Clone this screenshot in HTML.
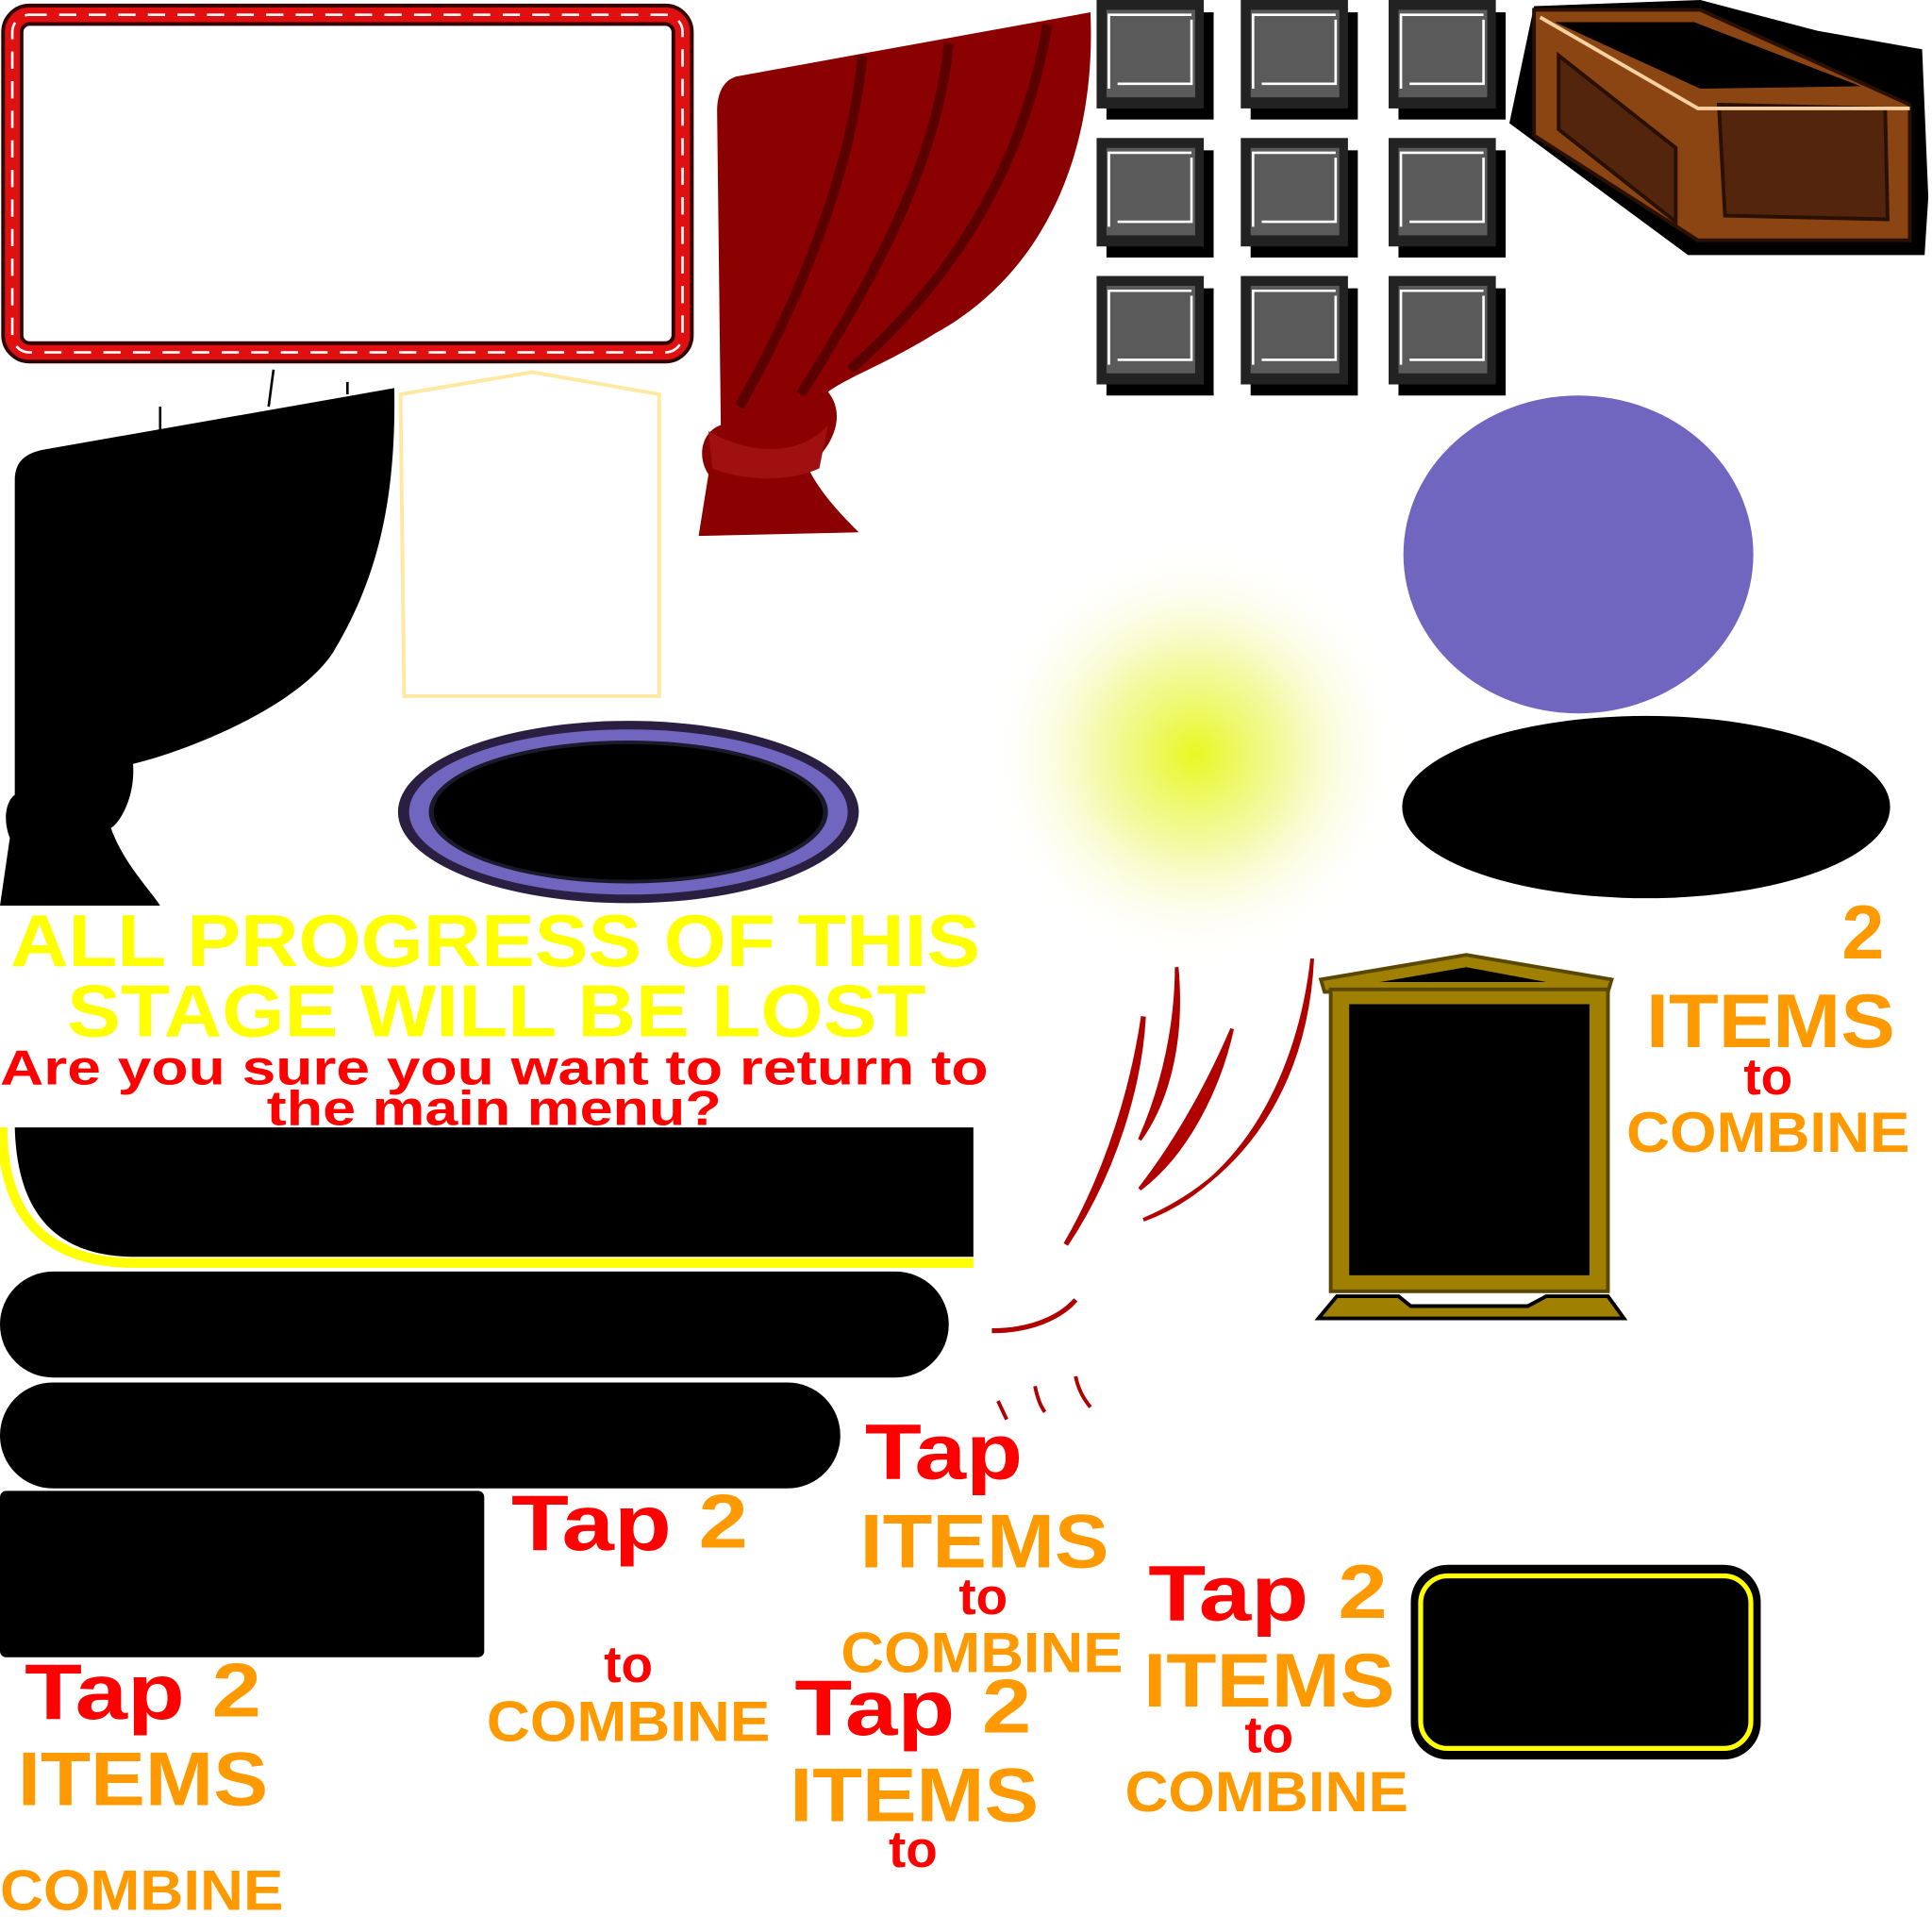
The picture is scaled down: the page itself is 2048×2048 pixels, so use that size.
<!DOCTYPE html>
<html><head><meta charset="utf-8"><style>
html,body{margin:0;padding:0;background:#fff;width:2048px;height:2048px;overflow:hidden}
svg{display:block}
text{font-family:"Liberation Sans",Arial,sans-serif;font-weight:bold}
</style></head><body>
<svg width="2048" height="2048" viewBox="0 0 1568 1568" xmlns="http://www.w3.org/2000/svg">
<defs>
<radialGradient id="glow" cx="50%" cy="50%" r="50%">
<stop offset="0" stop-color="#e8f820"/>
<stop offset="0.45" stop-color="#f0f890" stop-opacity="0.8"/>
<stop offset="1" stop-color="#ffffff" stop-opacity="0"/>
</radialGradient>
<g id="tile">
<rect x="8" y="10" width="87" height="87" fill="#000"/>
<rect x="0" y="0" width="87" height="88" fill="#222"/>
<rect x="8" y="8" width="72" height="71" fill="#5a5a5a"/>
<path d="M10,72 V12 H77 M17,68 H77 V16" stroke="#fff" stroke-width="2" fill="none"/>
</g>
</defs>

<!-- rope frame -->
<rect x="10" y="12" width="544" height="274" rx="14" fill="none" stroke="#300" stroke-width="18"/>
<rect x="10" y="12" width="544" height="274" rx="14" fill="none" stroke="#e01010" stroke-width="12"/>
<rect x="10" y="12" width="544" height="274" rx="14" fill="none" stroke="#fff" stroke-width="2" stroke-dasharray="14 10"/>

<!-- red curtain -->
<path d="M598,62 L885,10 C890,120 850,220 760,270 C720,295 690,305 672,318 C690,340 670,370 655,378 C665,400 685,420 697,432 L567,435 L575,385 C565,370 570,350 585,345 L582,90 C582,72 590,64 598,62 Z" fill="#8b0000"/>
<path d="M700,45 C690,150 640,260 600,330 M770,35 C760,140 700,240 650,320 M850,20 C830,140 770,230 690,300" stroke="#5a0000" stroke-width="8" fill="none"/>
<path d="M575,350 C610,370 650,370 672,345 L665,380 C640,392 600,390 578,380 Z" fill="#a01010"/>

<!-- tiles -->
<use href="#tile" x="890" y="0"/><use href="#tile" x="1007" y="0"/><use href="#tile" x="1127" y="0"/>
<use href="#tile" x="890" y="112"/><use href="#tile" x="1007" y="112"/><use href="#tile" x="1127" y="112"/>
<use href="#tile" x="890" y="224"/><use href="#tile" x="1007" y="224"/><use href="#tile" x="1127" y="224"/>

<!-- crate -->
<path d="M1225,100 L1370,207 L1562,207 L1565,160 L1560,40 L1475,25 L1380,0 L1245,5 Z" fill="#000"/>
<path d="M1245,8 L1380,8 L1550,85 L1550,195 L1378,195 L1245,110 Z" fill="#8b4513" stroke="#2a1000" stroke-width="3"/>
<path d="M1262,18 L1375,18 L1510,70 L1380,72 Z" fill="#000"/>
<path d="M1265,45 L1360,120 L1360,180 L1265,105 Z M1395,85 L1530,88 L1532,178 L1400,175 Z" fill="#52250c" stroke="#2a1000" stroke-width="3"/>
<path d="M1250,14 L1378,88 L1550,88" stroke="#f5d0a0" stroke-width="3" fill="none"/>

<!-- black curtain -->
<path d="M35,365 L320,315 C322,420 300,480 270,530 C240,575 150,610 108,620 C110,650 95,670 90,672 C100,700 120,720 130,735 L0,735 L8,680 C2,665 5,650 12,645 L12,390 C12,375 20,368 35,365 Z" fill="#000"/>
<path d="M130,330 L130,350 M222,300 L218,330 M282,310 L282,320" stroke="#000" stroke-width="2"/>

<!-- pale frame -->
<path d="M325,320 L432,302 L535,320 L535,565 L328,565 Z" fill="none" stroke="#ffe9a0" stroke-width="3"/>

<!-- purple ring -->
<ellipse cx="510" cy="659" rx="187" ry="74" fill="#2a1f40"/>
<ellipse cx="510" cy="659" rx="178" ry="67" fill="#7066c0"/>
<ellipse cx="510" cy="659" rx="162" ry="58" fill="#1a1a2a"/>
<ellipse cx="510" cy="659" rx="158" ry="55" fill="#000"/>

<!-- glow -->
<circle cx="970" cy="612" r="170" fill="url(#glow)"/>

<!-- purple circle and black ellipse -->
<ellipse cx="1281" cy="450" rx="142" ry="129" fill="#7066c0"/>
<ellipse cx="1336" cy="655" rx="198" ry="74" fill="#000"/>

<!-- headline -->
<text x="402" y="784" text-anchor="middle" font-size="60" fill="#ffff00" textLength="787" lengthAdjust="spacingAndGlyphs">ALL PROGRESS OF THIS</text>
<text x="403" y="841" text-anchor="middle" font-size="60" fill="#ffff00" textLength="697" lengthAdjust="spacingAndGlyphs">STAGE WILL BE LOST</text>
<text x="401" y="880" text-anchor="middle" font-size="40" fill="#ff0000" textLength="802" lengthAdjust="spacingAndGlyphs">Are you sure you want to return to</text>
<text x="401" y="913" text-anchor="middle" font-size="40" fill="#ff0000" textLength="369" lengthAdjust="spacingAndGlyphs">the main menu?</text>

<!-- bars -->
<path d="M2,915 C2,990 40,1025 110,1025 L790,1025" stroke="#ffff00" stroke-width="8" fill="none"/>
<path d="M12,915 L790,915 L790,1020 L110,1020 C50,1020 14,990 12,915 Z" fill="#000"/>
<rect x="0" y="1032" width="770" height="86" rx="43" fill="#000"/>
<rect x="0" y="1122" width="682" height="86" rx="43" fill="#000"/>
<rect x="0" y="1210" width="393" height="135" rx="5" fill="#000"/>

<!-- red swooshes -->
<path d="M865,1010 C900,950 920,880 928,825 C925,880 905,950 865,1010 Z" fill="#b00000" stroke="#b00000" stroke-width="4"/>
<path d="M925,925 C945,880 955,830 955,785 C960,840 950,890 925,925 Z" fill="#b00000" stroke="#b00000" stroke-width="3"/>
<path d="M925,965 C960,920 985,870 1000,835 C990,880 965,935 925,965 Z" fill="#b00000" stroke="#b00000" stroke-width="3"/>
<path d="M928,990 C1010,960 1055,870 1065,778 C1060,880 1010,955 928,990 Z" fill="#b00000" stroke="#b00000" stroke-width="3"/>
<path d="M805,1080 C835,1080 860,1070 873,1055" stroke="#b00000" stroke-width="4" fill="none"/>
<path d="M810,1137 L817,1152 M840,1125 C842,1135 845,1142 848,1146 M873,1117 C875,1128 880,1136 885,1142" stroke="#b00000" stroke-width="3" fill="none"/>

<!-- gold frame -->
<path d="M1072,795 L1190,775 L1308,795 L1305,805 L1075,805 Z" fill="#a08000" stroke="#5a4800" stroke-width="3"/>
<path d="M1120,797 L1190,785 L1255,797 Z" fill="#000"/>
<rect x="1080" y="803" width="225" height="245" fill="#a08000" stroke="#5a4800" stroke-width="3"/>
<rect x="1095" y="815" width="195" height="220" fill="#000"/>
<path d="M1070,1070 L1085,1052 L1135,1052 L1145,1060 L1240,1060 L1255,1052 L1305,1052 L1318,1070 Z" fill="#a08000" stroke="#000" stroke-width="3"/>

<!-- right text -->
<g fill="#ff9900" font-size="62">
<text x="1512" y="778" text-anchor="middle">2</text>
<text x="1437" y="850" text-anchor="middle" textLength="202" lengthAdjust="spacingAndGlyphs">ITEMS</text>
<text x="1435" y="935" text-anchor="middle" font-size="46" textLength="230" lengthAdjust="spacingAndGlyphs">COMBINE</text>
</g>
<text x="1435" y="888" text-anchor="middle" font-size="42" fill="#ff0000">to</text>

<!-- group: Tap / ITEMS / to / COMBINE -->
<text x="702" y="1200" font-size="64" fill="#ff0000" textLength="128" lengthAdjust="spacingAndGlyphs">Tap</text>
<text x="799" y="1272" text-anchor="middle" font-size="62" fill="#ff9900" textLength="202" lengthAdjust="spacingAndGlyphs">ITEMS</text>
<text x="798" y="1310" text-anchor="middle" font-size="42" fill="#ff0000">to</text>
<text x="797" y="1357" text-anchor="middle" font-size="46" fill="#ff9900" textLength="229" lengthAdjust="spacingAndGlyphs">COMBINE</text>

<!-- Tap 2 (middle) -->
<text x="415" y="1258" font-size="64" fill="#ff0000" textLength="130" lengthAdjust="spacingAndGlyphs">Tap</text>
<text x="567" y="1256" font-size="62" fill="#ff9900" textLength="40" lengthAdjust="spacingAndGlyphs">2</text>
<text x="510" y="1365" text-anchor="middle" font-size="42" fill="#ff0000">to</text>
<text x="510" y="1413" text-anchor="middle" font-size="46" fill="#ff9900" textLength="230" lengthAdjust="spacingAndGlyphs">COMBINE</text>

<!-- bottom-left -->
<text x="20" y="1395" font-size="64" fill="#ff0000" textLength="130" lengthAdjust="spacingAndGlyphs">Tap</text>
<text x="172" y="1393" font-size="62" fill="#ff9900" textLength="40" lengthAdjust="spacingAndGlyphs">2</text>
<text x="116" y="1465" text-anchor="middle" font-size="62" fill="#ff9900" textLength="203" lengthAdjust="spacingAndGlyphs">ITEMS</text>
<text x="115" y="1550" text-anchor="middle" font-size="46" fill="#ff9900" textLength="230" lengthAdjust="spacingAndGlyphs">COMBINE</text>

<!-- bottom-middle -->
<text x="645" y="1408" font-size="64" fill="#ff0000" textLength="130" lengthAdjust="spacingAndGlyphs">Tap</text>
<text x="797" y="1406" font-size="62" fill="#ff9900" textLength="40" lengthAdjust="spacingAndGlyphs">2</text>
<text x="742" y="1478" text-anchor="middle" font-size="62" fill="#ff9900" textLength="202" lengthAdjust="spacingAndGlyphs">ITEMS</text>
<text x="741" y="1515" text-anchor="middle" font-size="42" fill="#ff0000">to</text>

<!-- right group -->
<text x="932" y="1315" font-size="64" fill="#ff0000" textLength="130" lengthAdjust="spacingAndGlyphs">Tap</text>
<text x="1086" y="1313" font-size="62" fill="#ff9900" textLength="40" lengthAdjust="spacingAndGlyphs">2</text>
<text x="1030" y="1385" text-anchor="middle" font-size="62" fill="#ff9900" textLength="204" lengthAdjust="spacingAndGlyphs">ITEMS</text>
<text x="1030" y="1422" text-anchor="middle" font-size="42" fill="#ff0000">to</text>
<text x="1028" y="1470" text-anchor="middle" font-size="46" fill="#ff9900" textLength="230" lengthAdjust="spacingAndGlyphs">COMBINE</text>

<!-- yellow outlined box -->
<rect x="1145" y="1270" width="284" height="158" rx="30" fill="#000"/>
<rect x="1153" y="1279" width="268" height="140" rx="22" fill="none" stroke="#ffff00" stroke-width="4"/>
</svg>
</body></html>
